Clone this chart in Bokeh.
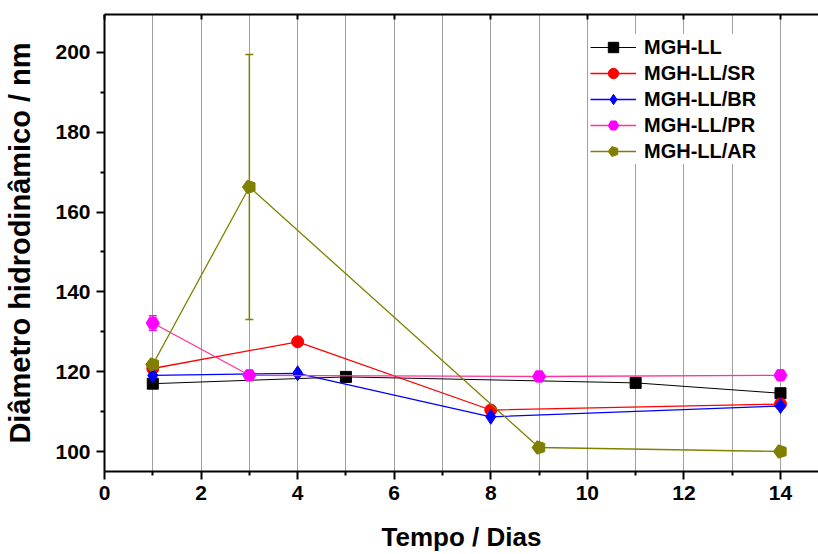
import numpy as np
from bokeh.plotting import figure
from bokeh.models import (Range1d, LinearAxis, FixedTicker, Legend, LegendItem,
                          Whisker, ColumnDataSource, TeeHead, Grid)
from bokeh.embed import file_html
from bokeh.resources import INLINE

# ---- data ----
ll_x = [1, 5, 11, 14]
ll_y = [117.0, 118.7, 117.2, 114.6]

sr_x = [1, 4, 8, 14]
sr_y = [120.8, 127.5, 110.4, 111.9]

br_x = [1, 4, 8, 14]
br_y = [119.1, 119.6, 108.7, 111.4]

pr_x = [1, 3, 9, 14]
pr_y = [132.2, 119.1, 118.8, 119.1]
pr_err = [1.8, 0.0, 0.0, 0.0]

ar_x = [1, 3, 9, 14]
ar_y = [121.8, 166.3, 101.0, 100.0]
ar_err = [0.0, 33.2, 0.0, 0.0]

x_ticks = [0, 2, 4, 6, 8, 10, 12, 14]
x_minor = [1, 3, 5, 7, 9, 11, 13]
y_ticks = [100, 120, 140, 160, 180, 200]
y_minor = [110, 130, 150, 170, 190]
grid_x = list(range(1, 15))

labels = ["MGH-LL", "MGH-LL/SR", "MGH-LL/BR", "MGH-LL/PR", "MGH-LL/AR"]
x_title = "Tempo / Dias"
y_title = "Diâmetro hidrodinâmico / nm"

FONT = "Liberation Sans"

p = figure(width=818, height=554, output_backend="svg", toolbar_location=None,
           x_range=Range1d(0, 14.787), y_range=Range1d(94.99, 209.52),
           min_border_left=104, min_border_right=0, min_border_top=14,
           min_border_bottom=83, x_axis_location=None, y_axis_location=None)
p.outline_line_color = None
p.background_fill_color = "white"
p.border_fill_color = "white"

def style_axis(ax, major, minor):
    ax.ticker = FixedTicker(ticks=major, minor_ticks=minor)
    ax.axis_line_width = 2
    ax.axis_line_color = "black"
    ax.major_tick_line_width = 2
    ax.minor_tick_line_width = 2
    ax.major_tick_in = 0
    ax.major_tick_out = 8
    ax.minor_tick_in = 0
    ax.minor_tick_out = 4
    ax.major_label_text_font = FONT
    ax.major_label_text_font_style = "bold"
    ax.major_label_text_font_size = "21px"
    ax.major_label_text_color = "black"
    ax.axis_label_text_font = FONT
    ax.axis_label_text_font_style = "bold"
    ax.axis_label_text_color = "black"

xa = LinearAxis(axis_label=x_title)
style_axis(xa, x_ticks, x_minor)
xa.major_label_standoff = 6
xa.axis_label_standoff = 19
xa.axis_label_text_font_size = "26px"
p.add_layout(xa, "below")

ya = LinearAxis(axis_label=y_title)
style_axis(ya, y_ticks, y_minor)
ya.major_label_standoff = 6
ya.axis_label_standoff = 16
ya.axis_label_text_font_size = "29px"
p.add_layout(ya, "left")

ta = LinearAxis()
ta.ticker = FixedTicker(ticks=x_ticks, minor_ticks=[])
ta.axis_line_width = 2
ta.major_tick_in = 5
ta.major_tick_out = 0
ta.major_tick_line_width = 2
ta.minor_tick_in = 0
ta.minor_tick_out = 0
ta.major_label_overrides = {t: "" for t in x_ticks}
ta.major_label_standoff = 0
p.add_layout(ta, "above")

p.xgrid.visible = False
p.ygrid.visible = False
g = Grid(dimension=0, ticker=FixedTicker(ticks=grid_x))
g.grid_line_color = "#a0a0a0"
g.grid_line_width = 1
p.add_layout(g)

# error bars
pr_src = ColumnDataSource(dict(x=[pr_x[i] for i in range(4) if pr_err[i] > 0],
                               lo=[pr_y[i] - pr_err[i] for i in range(4) if pr_err[i] > 0],
                               hi=[pr_y[i] + pr_err[i] for i in range(4) if pr_err[i] > 0]))
ar_src = ColumnDataSource(dict(x=[ar_x[i] for i in range(4) if ar_err[i] > 0],
                               lo=[ar_y[i] - ar_err[i] for i in range(4) if ar_err[i] > 0],
                               hi=[ar_y[i] + ar_err[i] for i in range(4) if ar_err[i] > 0]))
for src, col in ((pr_src, "#ff00ff"), (ar_src, "#808000")):
    w = Whisker(source=src, base="x", upper="hi", lower="lo", dimension="height",
                line_color=col, line_width=1.5,
                upper_head=TeeHead(size=8, line_color=col, line_width=1.5),
                lower_head=TeeHead(size=8, line_color=col, line_width=1.5))
    p.add_layout(w)

items = []
l1 = p.line(ll_x, ll_y, line_color="black", line_width=1)
m1 = p.scatter(ll_x, ll_y, marker="square", size=11, color="black")
items.append(LegendItem(label=labels[0], renderers=[l1, m1]))

l2 = p.line(sr_x, sr_y, line_color="#ff0000", line_width=1.3)
m2 = p.scatter(sr_x, sr_y, marker="circle", size=12, color="#ff0000")
items.append(LegendItem(label=labels[1], renderers=[l2, m2]))

l3 = p.line(br_x, br_y, line_color="#0000ff", line_width=1.3)
m3 = p.scatter(br_x, br_y, marker="diamond", size=15, color="#0000ff")
items.append(LegendItem(label=labels[2], renderers=[l3, m3]))

l4 = p.line(pr_x, pr_y, line_color="#ff3399", line_width=1.3)
m4 = p.scatter(pr_x, pr_y, marker="hex", size=13, color="#ff00ff")
items.append(LegendItem(label=labels[3], renderers=[l4, m4]))

l5 = p.line(ar_x, ar_y, line_color="#808000", line_width=1.3)
m5 = p.ngon(ar_x, ar_y, radius=7, radius_units="screen", n=5, angle=np.pi / 2,
            fill_color="#808000", line_color="#808000")
items.append(LegendItem(label=labels[4], renderers=[l5, m5]))

leg = Legend(items=items, location=(486, 307))
leg.glyph_width = 46
leg.glyph_height = 26
leg.label_height = 26
leg.spacing = 0
leg.padding = 5
leg.margin = 0
leg.label_standoff = 8
leg.label_text_font = FONT
leg.label_text_font_style = "bold"
leg.label_text_font_size = "20px"
leg.label_text_color = "black"
leg.border_line_color = None
leg.background_fill_color = "white"
leg.background_fill_alpha = 1.0
p.add_layout(leg)

open("out.html", "w").write(file_html(p, INLINE))
